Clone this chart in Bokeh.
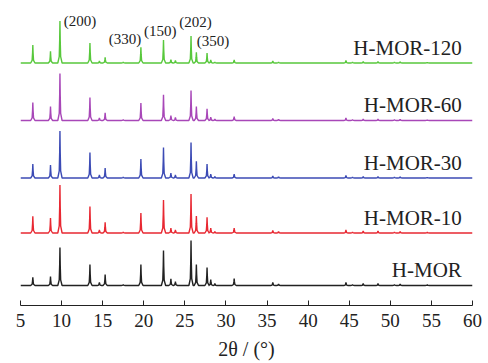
from bokeh.plotting import figure
from bokeh.models import Range1d, FixedTicker, ColumnDataSource
from bokeh.core.properties import value
from bokeh.embed import file_html
from bokeh.resources import INLINE

# ---- data ----
SERIES = ["H-MOR", "H-MOR-10", "H-MOR-30", "H-MOR-60", "H-MOR-120"]
COLORS = ["#222222", "#e82832", "#3c4bb5", "#a847b8", "#58c83c"]
OFFSETS = [20, 72.5, 127.5, 185, 242.5]

PEAK_POS = [6.5, 8.65, 9.8, 13.45, 14.6, 15.3, 17.5, 19.65, 22.4, 23.3, 23.85,
            25.75, 26.4, 27.7, 28.15, 28.65, 31.0, 35.7, 36.4, 44.6, 45.4,
            46.7, 48.5, 50.5, 51.2, 54.5]

I_HMOR = [8.3, 9, 38, 21, 3, 11, 1, 21, 35, 6.7, 4, 45, 21, 18, 6, 2, 7,
          3, 1.5, 3, 1, 2, 2, 1, 1.5, 0.8]
I_HMOR10 = [16.6, 15, 48, 26.6, 3, 10.6, 1, 20, 33, 5, 3, 39, 17, 15.6, 5,
            1.5, 5, 2.5, 1.5, 3, 1, 2, 2, 1, 1.5, 0.8]
I_HMOR30 = [14, 13, 47, 25.6, 3, 10, 1, 19, 30.6, 5, 3, 35.6, 16.6, 14, 4,
            1.5, 4, 2, 1.2, 2.5, 1, 1.5, 1.5, 1, 1.2, 0.6]
I_HMOR60 = [18, 14, 47, 23, 2.5, 7.6, 1, 17.6, 25.7, 5, 3, 30, 14, 11.7, 3.5,
            1.5, 4, 2, 1.2, 2.5, 1, 1.5, 1.5, 1, 1.2, 0.6]
I_HMOR120 = [18, 11.6, 42, 20, 2, 5.6, 1, 15.6, 23, 3.5, 2.5, 27, 10.6, 10, 3,
             1, 3, 2, 1, 2.5, 1, 1.5, 1.5, 1, 1.2, 0.6]
INTENSITIES = [I_HMOR, I_HMOR10, I_HMOR30, I_HMOR60, I_HMOR120]

HKL_LABELS = ["(200)", "(330)", "(150)", "(202)", "(350)"]
HKL_X = [12.24, 17.72, 22.0, 26.3, 28.42]
HKL_Y = [285, 267, 274.3, 284, 265]

X_TICKS = [5, 10, 15, 20, 25, 30, 35, 40, 45, 50, 55, 60]
X_START, X_END = 5, 60

# ---- figure ----
FONT = "Liberation Serif"
HALF_W = 0.26

p = figure(width=488, height=363, output_backend="svg", toolbar_location=None,
           x_range=Range1d(X_START, X_END), y_range=Range1d(0, 297),
           min_border_left=20, min_border_right=16, min_border_top=8,
           min_border_bottom=58)
p.outline_line_color = None
p.grid.visible = False
p.yaxis.visible = False
p.background_fill_color = "white"
p.border_fill_color = "white"


def profile(offset, heights):
    xs, ys = [X_START], [offset]
    for pos, h in zip(PEAK_POS, heights):
        xs += [pos - HALF_W, pos - HALF_W / 3, pos - HALF_W / 8, pos,
               pos + HALF_W / 8, pos + HALF_W / 3, pos + HALF_W]
        ys += [offset, offset + 0.15 * h, offset + 0.55 * h, offset + h,
               offset + 0.55 * h, offset + 0.15 * h, offset]
    xs.append(X_END)
    ys.append(offset)
    return xs, ys


for name, col, off, inten in zip(SERIES, COLORS, OFFSETS, INTENSITIES):
    xs, ys = profile(off, inten)
    p.line(xs, ys, line_color=col, line_width=1.4)

lab_src = ColumnDataSource(dict(x=[58.7] * len(SERIES),
                                y=[o + 15.5 for o in OFFSETS],
                                t=SERIES))
p.text(x="x", y="y", text="t", source=lab_src, text_align="right",
       text_baseline="middle", text_font=value(FONT),
       text_font_size="21px", text_color="#222222")

hkl_src = ColumnDataSource(dict(x=HKL_X, y=HKL_Y, t=HKL_LABELS))
p.text(x="x", y="y", text="t", source=hkl_src, text_align="center",
       text_baseline="middle", text_font=value(FONT),
       text_font_size="15px", text_color="#222222")

ax = p.xaxis[0]
ax.ticker = FixedTicker(ticks=X_TICKS)
ax.major_tick_in = 5
ax.major_tick_out = 0
ax.minor_tick_line_color = None
ax.axis_line_color = "#222222"
ax.major_tick_line_color = "#222222"
ax.major_label_text_font = FONT
ax.major_label_text_font_size = "19px"
ax.major_label_text_color = "#222222"
ax.major_label_standoff = 8
ax.axis_label = "2θ / (°)"
ax.axis_label_text_font = FONT
ax.axis_label_text_font_style = "normal"
ax.axis_label_text_font_size = "20px"
ax.axis_label_text_color = "#222222"
ax.axis_label_standoff = 8

open("out.html", "w").write(file_html(p, INLINE))
